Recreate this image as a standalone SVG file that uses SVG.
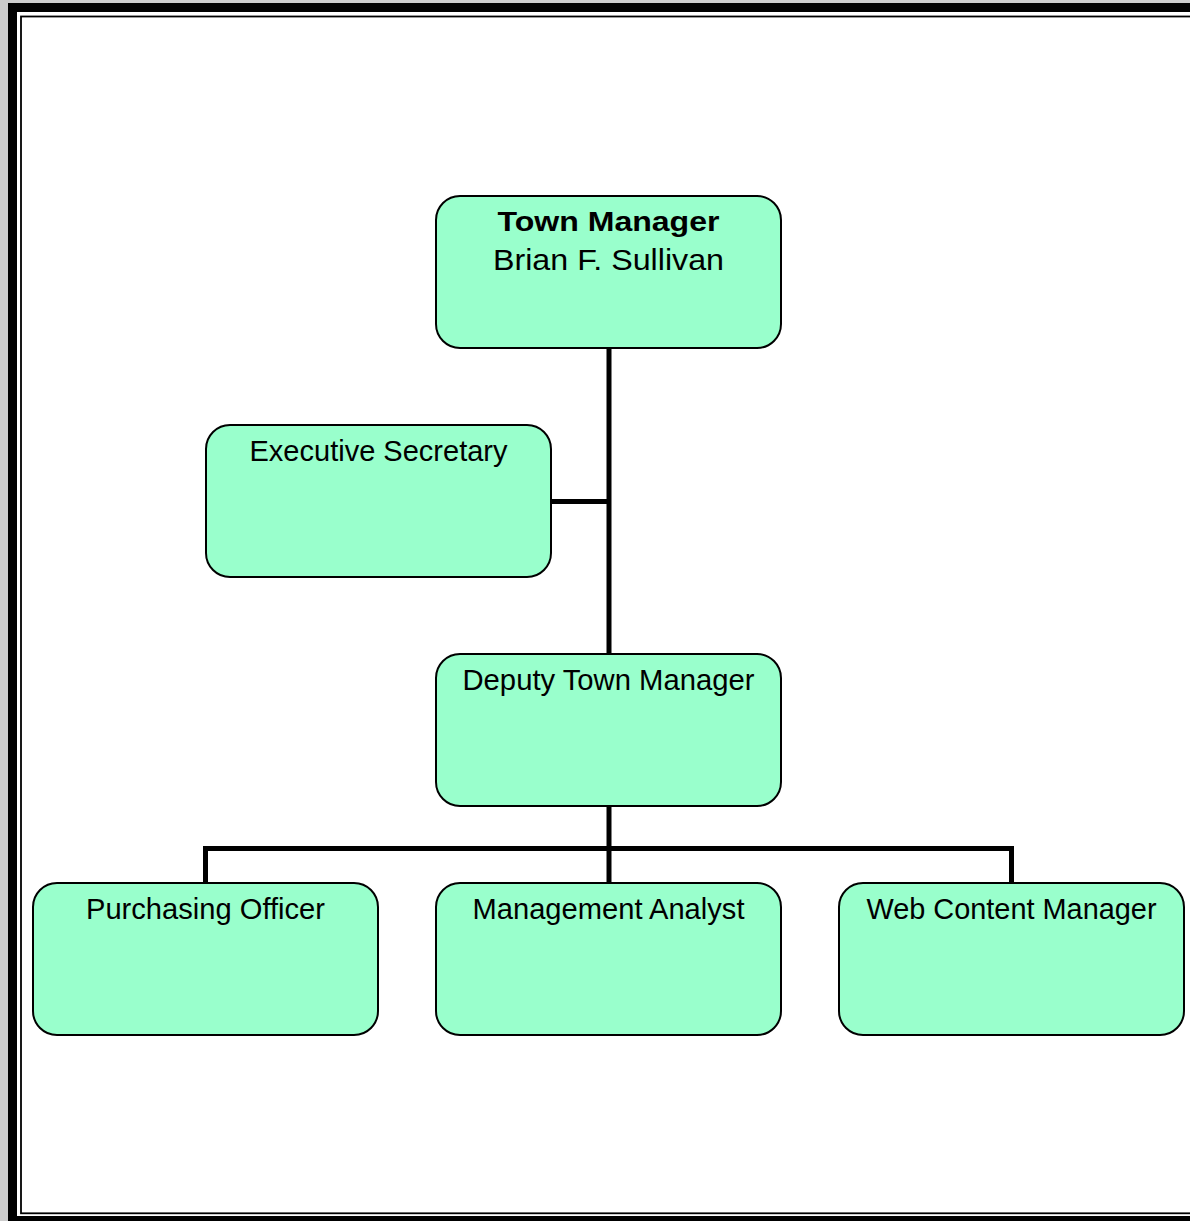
<svg xmlns="http://www.w3.org/2000/svg" width="1190" height="1221" viewBox="0 0 1190 1221">
<style>
.box{fill:#99FFCC;stroke:#000;stroke-width:2}
.t{font-family:"Liberation Sans",Arial,sans-serif;font-size:29px;fill:#000;text-anchor:middle}
.b{font-weight:bold;font-size:28px}
.c{fill:none;stroke:#000;stroke-width:5;stroke-linecap:butt;stroke-linejoin:miter}
</style>
<g id="frame">
<rect x="0" y="0" width="1190" height="1221" fill="#cccccc"/>
<rect x="8" y="3" width="1200" height="1230" fill="#000"/>
<rect x="17" y="12" width="1200" height="1204" fill="#fff"/>
<rect x="21" y="16.5" width="1200" height="1196.8" fill="none" stroke="#000" stroke-width="1.8"/>
</g>
<g id="connectors">
<path class="c" d="M609,348 V654"/>
<path class="c" d="M551,501.5 H609"/>
<path class="c" d="M609,806 V883"/>
<path class="c" d="M205.5,883 V848.5 H1011.5 V883"/>
</g>
<g id="town-manager">
<rect class="box" x="436" y="196" width="345" height="152" rx="24" ry="24"/>
<text class="t b" x="608.5" y="231" textLength="222" lengthAdjust="spacingAndGlyphs">Town Manager</text>
<text class="t" x="608.5" y="269.5" textLength="231" lengthAdjust="spacingAndGlyphs">Brian F. Sullivan</text>
</g>
<g id="executive-secretary">
<rect class="box" x="206" y="425" width="345" height="152" rx="24" ry="24"/>
<text class="t" x="378.5" y="461" textLength="258" lengthAdjust="spacingAndGlyphs">Executive Secretary</text>
</g>
<g id="deputy-town-manager">
<rect class="box" x="436" y="654" width="345" height="152" rx="24" ry="24"/>
<text class="t" x="608.5" y="689.5" textLength="292" lengthAdjust="spacingAndGlyphs">Deputy Town Manager</text>
</g>
<g id="purchasing-officer">
<rect class="box" x="33" y="883" width="345" height="152" rx="24" ry="24"/>
<text class="t" x="205.5" y="918.5" textLength="239" lengthAdjust="spacingAndGlyphs">Purchasing Officer</text>
</g>
<g id="management-analyst">
<rect class="box" x="436" y="883" width="345" height="152" rx="24" ry="24"/>
<text class="t" x="608.5" y="918.5" textLength="272" lengthAdjust="spacingAndGlyphs">Management Analyst</text>
</g>
<g id="web-content-manager">
<rect class="box" x="839" y="883" width="345" height="152" rx="24" ry="24"/>
<text class="t" x="1011.5" y="918.5" textLength="290" lengthAdjust="spacingAndGlyphs">Web Content Manager</text>
</g>
</svg>
